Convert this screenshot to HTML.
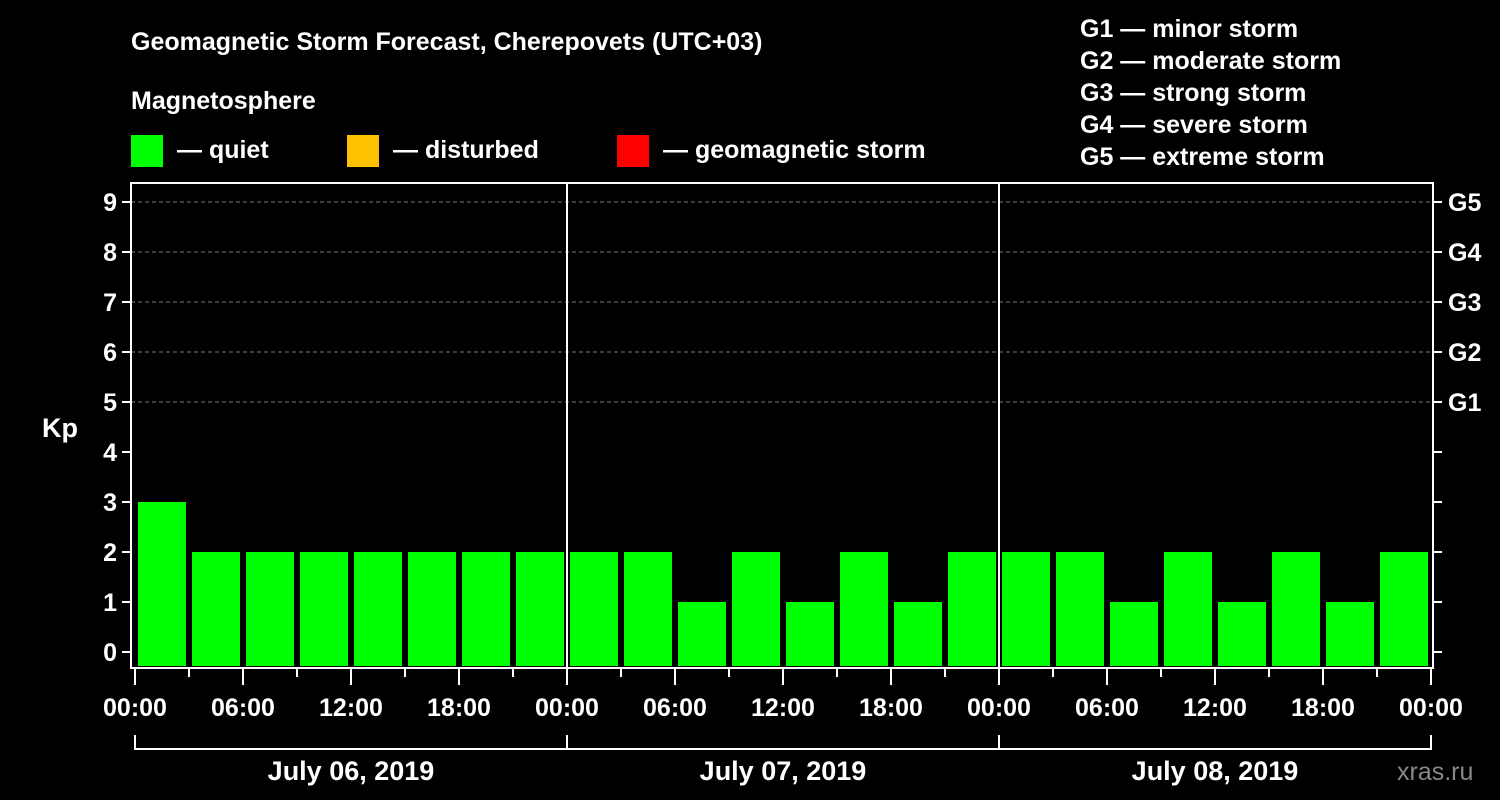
<!DOCTYPE html>
<html><head><meta charset="utf-8"><style>
html,body{margin:0;background:#000;}
svg{display:block;font-family:"Liberation Sans",Arial,sans-serif;font-weight:bold;}
</style></head><body>
<svg id="c" width="1500" height="800" viewBox="0 0 1500 800">
<rect width="1500" height="800" fill="#000"/>
<text x="131" y="50" fill="#fff" font-size="25">Geomagnetic Storm Forecast, Cherepovets (UTC+03)</text>
<text x="131" y="109" fill="#fff" font-size="25">Magnetosphere</text>
<g><rect x="131" y="135" width="32" height="32" fill="#00ff00"/><text x="177" y="158" fill="#fff" font-size="25">— quiet</text></g>
<g><rect x="347" y="135" width="32" height="32" fill="#ffc000"/><text x="393" y="158" fill="#fff" font-size="25">— disturbed</text></g>
<g><rect x="617" y="135" width="32" height="32" fill="#ff0000"/><text x="663" y="158" fill="#fff" font-size="25">— geomagnetic storm</text></g>
<g fill="#fff" font-size="25">
<text x="1080" y="37">G1 — minor storm</text>
<text x="1080" y="69">G2 — moderate storm</text>
<text x="1080" y="101">G3 — strong storm</text>
<text x="1080" y="133">G4 — severe storm</text>
<text x="1080" y="165">G5 — extreme storm</text>
</g>
<text x="42" y="437" fill="#fff" font-size="27">Kp</text>
<text x="1397" y="780" fill="#888" font-size="25" font-weight="normal">xras.ru</text>
<g id="grid"></g><g id="bars"></g><g id="axes"></g>
</svg>
<script>
const kpValues = [3,2,2,2,2,2,2,2, 2,2,1,2,1,2,1,2, 2,2,1,2,1,2,1,2];
const dayLabels = ["July 06, 2019","July 07, 2019","July 08, 2019"];
const hourLabels = ["00:00","06:00","12:00","18:00"];
const yTicks = [0,1,2,3,4,5,6,7,8,9];
const gLabels = ["G1","G2","G3","G4","G5"];
const NS="http://www.w3.org/2000/svg";
const L=135, PL=131, PR=1433, PT=183, PB=668, hourPx=18;
const x = h => L + h*hourPx;
const y = v => 652 - v*50;
function mk(t,a,p){const e=document.createElementNS(NS,t);for(const k in a)e.setAttribute(k,a[k]);p.appendChild(e);return e;}
const grid=document.getElementById('grid'), bars=document.getElementById('bars'), axes=document.getElementById('axes');
// grid
for(let v=5;v<=9;v++){const l=mk('line',{x1:PL,x2:PR,y1:y(v),y2:y(v),stroke:'#777','stroke-dasharray':'4 3','stroke-width':1},grid);

}
// bars
kpValues.forEach((v,i)=>{const x0=x(i*3)+3;const r=mk('rect',{x:x0,y:y(v),width:48,height:666-y(v),fill:v>=5?'#ff0000':(v>=4?'#ffc000':'#00ff00')},bars);

});
// frame
const f=mk('rect',{x:PL,y:PT,width:PR-PL,height:PB-PT,fill:'none',stroke:'#fff','stroke-width':2},axes);


// day separators
for(let d=1;d<dayLabels.length;d++){const s=mk('line',{x1:x(d*24),x2:x(d*24),y1:PT,y2:PB,stroke:'#fff','stroke-width':2},axes);

}
// y ticks
yTicks.forEach(v=>{mk('line',{x1:PL-9,x2:PL,y1:y(v),y2:y(v),stroke:'#fff','stroke-width':2},axes);
mk('line',{x1:PR,x2:PR+9,y1:y(v),y2:y(v),stroke:'#fff','stroke-width':2},axes);
const t=mk('text',{x:PL-14,y:y(v)+9,fill:'#fff','font-size':25,'text-anchor':'end'},axes);t.textContent=v;

});
gLabels.forEach((g,i)=>{const t=mk('text',{x:1448,y:y(5+i)+9,fill:'#fff','font-size':25},axes);t.textContent=g;

});
// x ticks
for(let h=0;h<=72;h+=3){const maj=h%6===0;mk('line',{x1:x(h),x2:x(h),y1:PB,y2:maj?685:677,stroke:'#fff','stroke-width':2},axes);}
for(let d=0;d<=dayLabels.length;d++){hourLabels.forEach((lab,k)=>{if(d===dayLabels.length&&k>0)return;
const t=mk('text',{x:x(d*24+k*6),y:716,fill:'#fff','font-size':25,'text-anchor':'middle'},axes);t.textContent=lab;

});}
// day brackets
dayLabels.forEach((lab,d)=>{const x0=x(d*24),x1=x((d+1)*24);
const p=mk('path',{d:`M${x0} 735V749H${x1}V735`,stroke:'#fff','stroke-width':2,fill:'none'},axes);


const t=mk('text',{x:(x0+x1)/2,y:780,fill:'#fff','font-size':27,'text-anchor':'middle'},axes);t.textContent=lab;

});
</script>
</body></html>
